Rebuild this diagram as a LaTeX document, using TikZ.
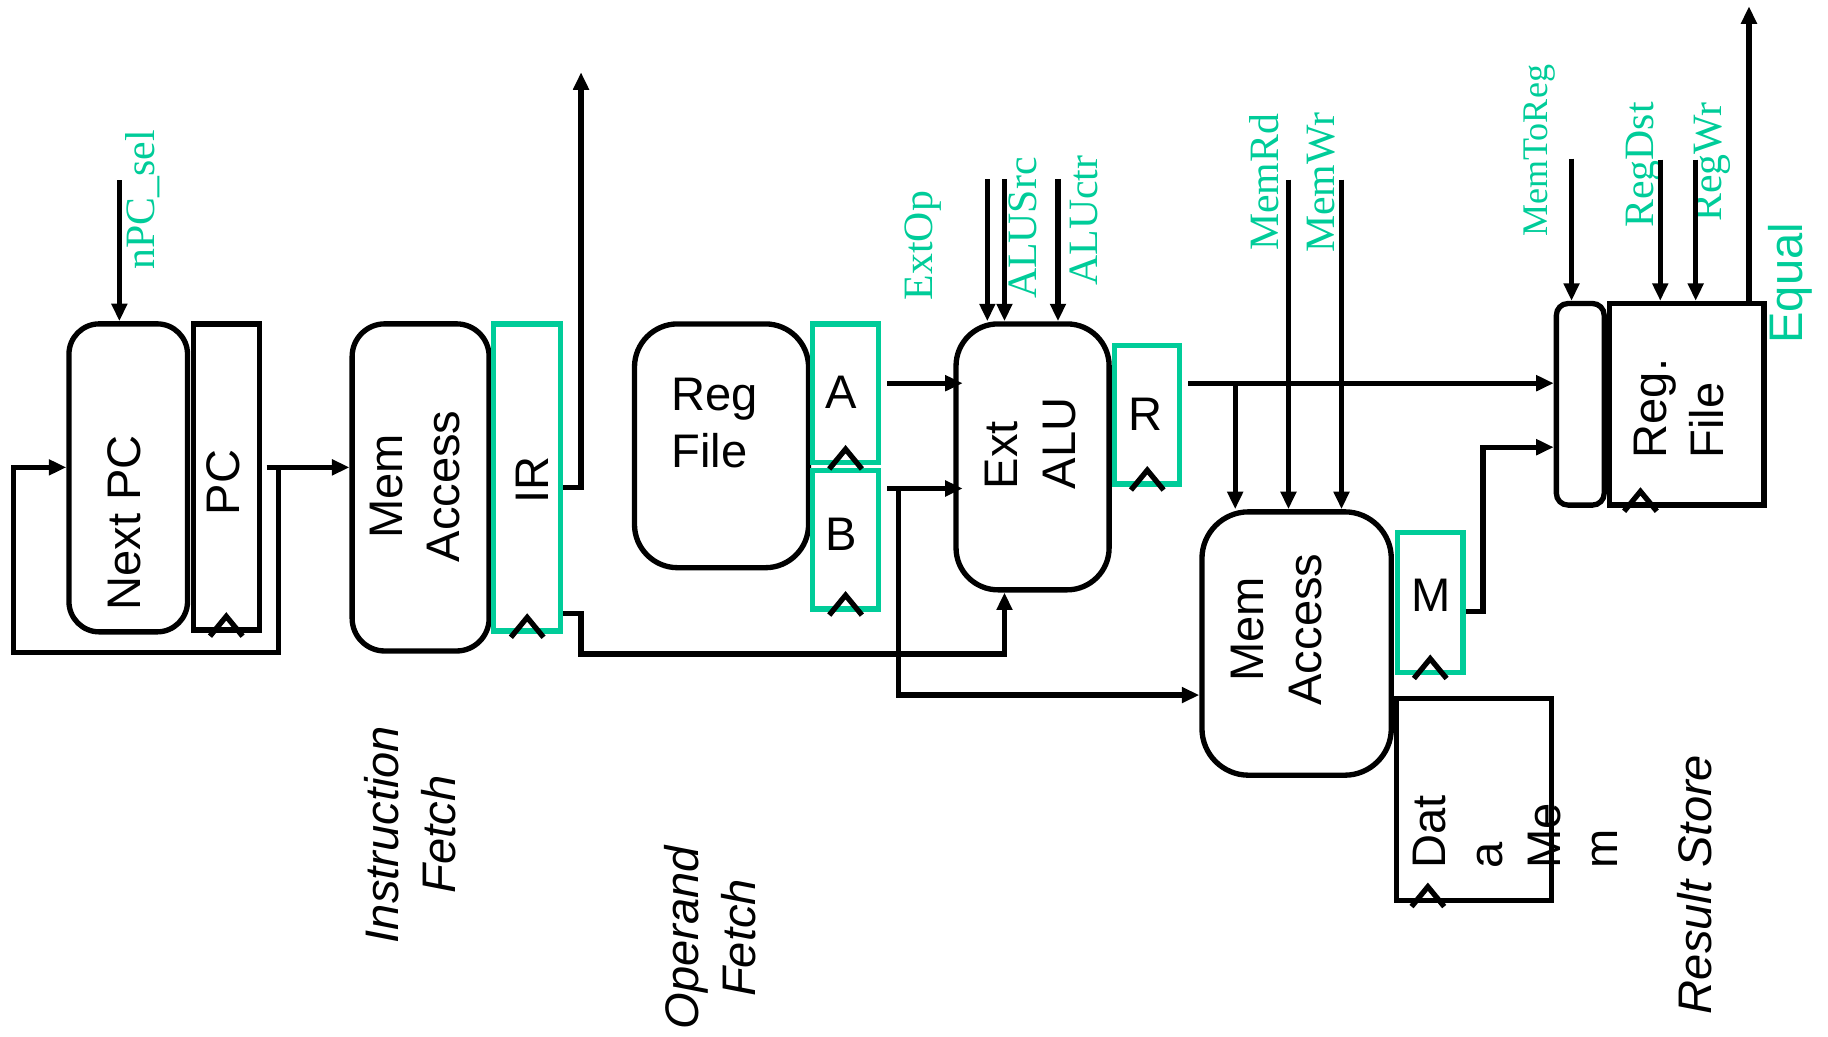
\documentclass[tikz,border=0pt]{standalone}
\usepackage{fontspec}
\setmainfont{Liberation Sans}
\newfontfamily\sigfont{Liberation Serif}
\usepackage{tikz}
\usetikzlibrary{arrows.meta, calc}
\definecolor{pipegreen}{RGB}{0,204,153}

\begin{document}
\begin{tikzpicture}[
    line width=1.3pt,
    font=\fontsize{11.5pt}{14pt}\selectfont,
    blk/.style={draw, rounded corners=#1, inner sep=0pt},
    reg/.style={draw, inner sep=0pt},
    preg/.style={draw=pipegreen, inner sep=0pt},
    txt/.style={inner sep=0pt, align=center},
    vtxt/.style={txt, rotate=90},
    stage/.style={vtxt, font=\fontsize{11.5pt}{14pt}\selectfont\itshape},
    sig/.style={inner sep=0pt, rotate=90, text=pipegreen, font=\sigfont\fontsize{10.2pt}{12pt}\selectfont},
    arrow/.style={-{Triangle[length=0.15cm, width=0.13cm]}}
]
\useasboundingbox (0,0) rectangle (15.68,8.89);

% blocks
\node[blk=0.26cm, minimum width=1.017cm, minimum height=2.642cm] (nextpc)  at (1.100, 4.791) {};
\node[reg,        minimum width=0.568cm, minimum height=2.626cm] (pc)      at (1.941, 4.799) {};
\node[blk=0.28cm, minimum width=1.175cm, minimum height=2.806cm] (imem)    at (3.608, 4.709) {};
\node[preg,       minimum width=0.575cm, minimum height=2.635cm] (ir)      at (4.522, 4.794) {};
\node[blk=0.37cm, minimum width=1.493cm, minimum height=2.091cm] (regfile) at (6.189, 5.066) {};
\node[preg,       minimum width=0.567cm, minimum height=1.192cm] (rega)    at (7.253, 5.516) {};
\node[preg,       minimum width=0.567cm, minimum height=1.188cm] (regb)    at (7.253, 4.261) {};
\node[blk=0.36cm, minimum width=1.313cm, minimum height=2.281cm] (alu)     at (8.857, 4.971) {};
\node[preg,       minimum width=0.557cm, minimum height=1.185cm] (regr)    at (9.841, 5.332) {};
\node[blk=0.40cm, minimum width=1.624cm, minimum height=2.259cm] (dmemacc) at (11.122, 3.370) {};
\node[preg,       minimum width=0.564cm, minimum height=1.202cm] (regm)    at (12.268, 3.724) {};
\node[reg,        minimum width=1.327cm, minimum height=1.731cm] (datamem) at (12.644, 2.032) {};
\node[blk=0.10cm, minimum width=0.410cm, minimum height=1.729cm] (wbmux)   at (13.555, 5.422) {};
\node[reg,        minimum width=1.326cm, minimum height=1.729cm] (wbrf)    at (14.467, 5.422) {};

% block texts
\node[vtxt] (nextpc-t) at (1.067, 4.405) {Next PC};
\node[vtxt] (pc-t)     at (1.912, 4.750) {PC};
\node[vtxt] (imem-t)   at (3.561, 4.717) {Mem\\Access};
\node[vtxt] (ir-t)     at (4.570, 4.776) {IR};
\node[txt, align=left, anchor=west] (regfile-t) at (5.738, 5.261) {Reg\\File};
\node[txt]  (rega-t)   at (7.214, 5.521) {A};
\node[txt]  (regb-t)   at (7.214, 4.307) {B};
\node[vtxt, align=left] (alu-t) at (8.839, 5.086) {Ext\\ALU};
\node[txt]  (regr-t)   at (9.824, 5.340) {R};
\node[vtxt] (dmemacc-t) at (10.949, 3.490) {Mem\\Access};
\node[txt]  (regm-t)   at (12.275, 3.780) {M};
\node[vtxt, align=left] (datamem-t) at (12.998, 1.753) {Dat\\a\\Me\\m};
\node[vtxt, align=left] (wbrf-t) at (14.400, 5.385) {Reg.\\File};

% stage names
\node[stage] (if-t) at (3.517, 1.732) {Instruction\\Fetch};
\node[stage] (of-t) at (6.093, 0.845) {Operand\\Fetch};
\node[stage] (rs-t) at (14.538, 1.304) {Result Store};

% control signals
\node[sig] (npcsel-t)   at (1.227, 7.174) {nPC\_sel};
\node[sig] (extop-t)    at (7.920, 6.784) {ExtOp};
\node[sig] (alusrc-t)   at (8.773, 6.933) {ALUSrc};
\node[sig] (aluctr-t)   at (9.300, 6.998) {ALUctr};
\node[sig] (memrd-t)    at (10.840, 7.325) {MemRd};
\node[sig] (memwr-t)    at (11.330, 7.322) {MemWr};
\node[sig, font=\sigfont\fontsize{8.8pt}{10pt}\selectfont] (memtoreg-t) at (13.202, 7.596) {MemToReg};
\node[sig] (regdst-t)   at (14.100, 7.476) {RegDst};
\node[sig] (regwr-t)    at (14.686, 7.498) {RegWr};
\node[sig, font=\fontsize{11.5pt}{13pt}\selectfont] (equal-t) at (15.360, 6.460) {Equal};

\coordinate (npcsel-in)   at (1.024, 7.343);
\coordinate (extop-in)    at (8.469, 7.353);
\coordinate (alusrc-in)   at (8.616, 7.353);
\coordinate (aluctr-in)   at (9.075, 7.353);
\coordinate (memrd-in)    at (11.052, 7.350);
\coordinate (memwr-in)    at (11.507, 7.350);
\coordinate (memtoreg-in) at (13.480, 7.530);
\coordinate (regdst-in)   at (14.241, 7.521);
\coordinate (regwr-in)    at (14.545, 7.521);
\coordinate (equal-out)   at (15.002, 8.836);
\coordinate (ir-out)      at (4.984, 8.270);

\foreach \c/\n in {npcsel-in/nextpc, extop-in/alu, alusrc-in/alu, aluctr-in/alu,
    memrd-in/dmemacc, memwr-in/dmemacc, memtoreg-in/wbmux, regdst-in/wbrf, regwr-in/wbrf}
    \draw[arrow] (\c) -- (\c |- \n.north);

% wiring helpers
\coordinate (rowa)   at (0, 5.603);
\coordinate (rowb)   at (0, 4.700);
\coordinate (rowd)   at (0, 2.928);
\coordinate (pcq)    at (2.390, 4.881);
\coordinate (irlow)  at (4.984, 3.280);
\coordinate (bsplit) at (7.707, 4.700);
\coordinate (rsplit) at (10.595, 5.603);
\coordinate (mup)    at (12.720, 5.054);

% fetch
\draw[arrow] ([xshift=0.04cm]pc.east |- pcq) -- (imem.west |- pcq);
\draw[arrow] (pcq) -- ++(0,-1.59) -| ++(-2.275,1.59) -- (nextpc.west |- pcq);
\draw[arrow] ([yshift=-0.084cm]ir.east) -| (ir-out);
\draw[arrow] ([yshift=0.173cm]ir.south east) -| (irlow) -| (alusrc-in |- alu.south);

% operands
\draw[arrow] ([xshift=0.05cm]rega.east |- rowa) -- ([xshift=0.08cm]alu.west |- rowa);
\draw[arrow] ([xshift=0.05cm]regb.east |- rowb) -- ([xshift=0.08cm]alu.west |- rowb);
\draw[arrow] (bsplit) |- (dmemacc.west |- rowd);

% result
\draw[arrow] ([xshift=0.05cm]regr.east |- rowa) -- (wbmux.west |- rowa);
\draw[arrow] (rsplit) -- (rsplit |- dmemacc.north);
\draw[arrow] ([yshift=-0.08cm]regm.east) -| (mup) -- (mup -| wbmux.west);
\draw[arrow] (wbrf.north -| equal-out) -- (equal-out);

% clocks
\foreach \r in {pc, ir, rega, regb, regr, regm}
    \draw ($(\r.south)+(-0.14,-0.03)$) -- ($(\r.south)+(0,0.14)$) -- ($(\r.south)+(0.14,-0.03)$);
\foreach \r in {wbrf, datamem}
    \draw ($(\r.south west)+(0.15,-0.03)$) -- ++(0.14,0.17) -- ++(0.14,-0.17);
\end{tikzpicture}
\end{document}
